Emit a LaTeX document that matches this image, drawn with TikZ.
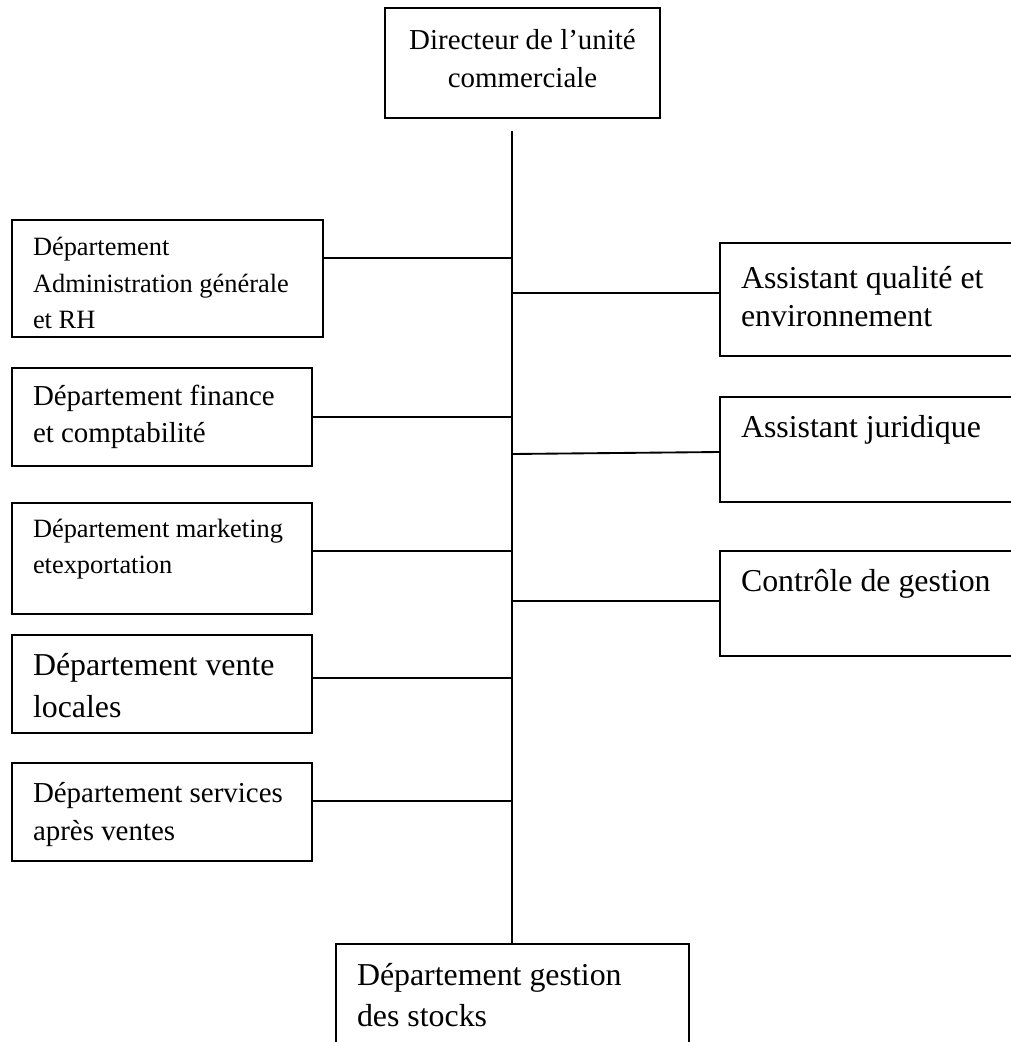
\documentclass[tikz,border=0pt]{standalone}
\usepackage{fontspec}
\setmainfont{Liberation Serif}
\usetikzlibrary{fit}
\begin{document}
\begin{tikzpicture}[x=0.75pt,y=-0.75pt,
  box/.style={rectangle, draw, line width=1.4pt, inner sep=0pt, outer sep=0pt},
  link/.style={line width=1.4pt},
  lbl/.style={anchor=base west, inner sep=0pt, outer sep=0pt},
  fs/.style={font=\fontsize{19.8}{22}\selectfont},
  fm/.style={font=\fontsize{21.7}{24}\selectfont},
  fl/.style={font=\fontsize{23.9}{26}\selectfont}]
\useasboundingbox (0,0) rectangle (1010,1042);

% boxes
\node[box, fit={(385,8) (660,118)}] (dir) {};
\node[box, fit={(12,220) (323,337)}] (admin) {};
\node[box, fit={(12,368) (312,466)}] (fin) {};
\node[box, fit={(12,503) (312,614)}] (mkt) {};
\node[box, fit={(12,635) (312,733)}] (vente) {};
\node[box, fit={(12,763) (312,861)}] (sav) {};
\node[box, fit={(720,243) (1030,356)}] (qual) {};
\node[box, fit={(720,397) (1030,502)}] (jur) {};
\node[box, fit={(720,551) (1030,656)}] (cg) {};
\node[box, fit={(336,944) (689,1070)}] (stock) {};

% labels
\node[fm, anchor=base, inner sep=0pt] (dirA) at (522.5,49) {Directeur de l’unité};
\node[fm, anchor=base, inner sep=0pt] (dirB) at (522.5,87) {commerciale};
\node[fs, lbl] (adminA) at (33,255) {Département};
\node[fs, lbl] (adminB) at (33,292) {Administration générale};
\node[fs, lbl] (adminC) at (33,328) {et RH};
\node[fm, lbl] (finA) at (33,405) {Département finance};
\node[fm, lbl] (finB) at (33,442) {et comptabilité};
\node[fs, lbl] (mktA) at (33,537) {Département marketing};
\node[fs, lbl] (mktB) at (33,573) {etexportation};
\node[fl, lbl] (venteA) at (33,675) {Département vente};
\node[fl, lbl] (venteB) at (33,717) {locales};
\node[fm, lbl] (savA) at (33,802) {Département services};
\node[fm, lbl] (savB) at (33,840) {après ventes};
\node[fl, lbl] (qualA) at (741,288) {Assistant qualité et};
\node[fl, lbl] (qualB) at (741,326) {environnement};
\node[fl, lbl] (jurA) at (741,437) {Assistant juridique};
\node[fl, lbl] (cgA) at (741,591) {Contrôle de gestion};
\node[fl, lbl] (stockA) at (357,985) {Département gestion};
\node[fl, lbl] (stockB) at (357,1026) {des stocks};

% trunk
\coordinate (top) at (512,131);
\draw[link] (top) -- (top |- stock.north);

% branches
\coordinate (jAdmin) at (512,258);
\coordinate (jQual) at (512,293);
\coordinate (jFin) at (512,417);
\coordinate (jJur) at (512,454);
\coordinate (jMkt) at (512,551);
\coordinate (jCg) at (512,601);
\coordinate (jVente) at (512,678);
\coordinate (jSav) at (512,801);
\draw[link] (jAdmin) -- (jAdmin -| admin.east);
\draw[link] (jQual) -- (jQual -| qual.west);
\draw[link] (jFin) -- (jFin -| fin.east);
\draw[link] (jJur) -- ([yshift=1.5pt]jJur -| jur.west);
\draw[link] (jMkt) -- (jMkt -| mkt.east);
\draw[link] (jCg) -- (jCg -| cg.west);
\draw[link] (jVente) -- (jVente -| vente.east);
\draw[link] (jSav) -- (jSav -| sav.east);
\end{tikzpicture}
\end{document}
